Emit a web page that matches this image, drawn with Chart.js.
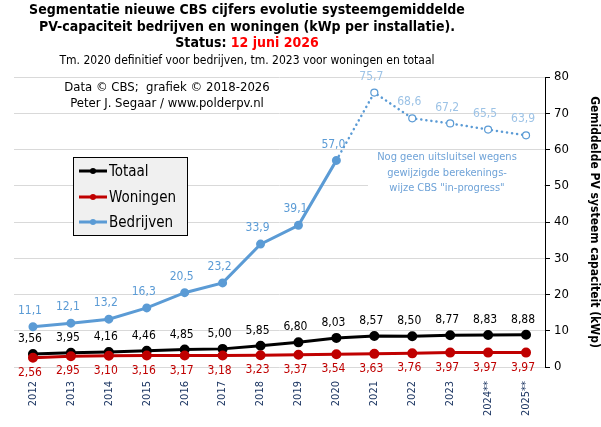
<!DOCTYPE html>
<html>
<head>
<meta charset="utf-8">
<script src="https://cdn.jsdelivr.net/npm/chart.js@4.4.1/dist/chart.umd.min.js"></script>
<style>
  html, body { margin: 0; padding: 0; background: #fff; }
  #wrap { width: 601px; height: 427px; }
</style>
</head>
<body>
<div id="wrap"><canvas id="chart"></canvas></div>
<script>
// gemiddelde systeemcapaciteit (kWp per installatie), CBS
const years = ['2012', '2013', '2014', '2015', '2016', '2017', '2018', '2019',
               '2020', '2021', '2022', '2023', '2024**', '2025**'];
const totaal = [3.56, 3.95, 4.16, 4.46, 4.85, 5.00, 5.85, 6.80, 8.03, 8.57, 8.50, 8.77, 8.83, 8.88];
const woningen = [2.56, 2.95, 3.10, 3.16, 3.17, 3.18, 3.23, 3.37, 3.54, 3.63, 3.76, 3.97, 3.97, 3.97];
const bedrijven = [11.1, 12.1, 13.2, 16.3, 20.5, 23.2, 33.9, 39.1, 57.0, 75.7, 68.6, 67.2, 65.5, 63.9];
const lastFinal = 8; // 2020: laatste definitieve jaar bedrijven
const yTicks = [0, 10, 20, 30, 40, 50, 60, 70, 80];

const FONT = '"DejaVu Sans Condensed", "DejaVu Sans", sans-serif';
const BLUE = '#5b9bd5';
const BLUE_LIGHT = '#9dc3e6';
const RED = '#c00000';

const bedrijvenFinal = bedrijven.map((v, i) => i <= lastFinal ? v : null);
const bedrijvenProgress = bedrijven.map((v, i) => i >= lastFinal ? v : null);

const fmt = v => v.toFixed(v >= 10 ? 1 : 2).replace('.', ',');

const valueLabels = {
  id: 'valueLabels',
  afterDatasetsDraw(chart) {
    const ctx = chart.ctx;
    ctx.save();
    ctx.font = '12px ' + FONT;
    ctx.textAlign = 'center';
    ctx.textBaseline = 'middle';
    chart.data.datasets.forEach((ds, di) => {
      const meta = chart.getDatasetMeta(di);
      meta.data.forEach((pt, i) => {
        const v = ds.data[i];
        if (v == null || (ds.skipLabel && ds.skipLabel.includes(i))) return;
        ctx.fillStyle = ds.labelColor;
        ctx.fillText(fmt(v), pt.x - 3, pt.y + ds.labelOffset);
      });
    });
    ctx.restore();
  }
};

const notes = {
  id: 'notes',
  beforeDatasetsDraw(chart) {
    const ctx = chart.ctx;
    ctx.save();
    ctx.fillStyle = '#fff';
    ctx.fillRect(368, 151, 176, 44);
    ctx.fillStyle = '#6fa3d8';
    ctx.font = '11px ' + FONT;
    ctx.textAlign = 'center';
    ctx.textBaseline = 'middle';
    ctx.fillText('Nog geen uitsluitsel wegens', 447, 157);
    ctx.fillText('gewijzigde berekenings-', 447, 173);
    ctx.fillText('wijze CBS "in-progress"', 447, 188);
    ctx.restore();
  },
  afterDraw(chart) {
    const ctx = chart.ctx;
    ctx.save();
    ctx.textAlign = 'center';
    ctx.textBaseline = 'middle';
    ctx.fillStyle = '#000';

    // titel
    ctx.font = 'bold 14px ' + FONT;
    ctx.fillText('Segmentatie nieuwe CBS cijfers evolutie systeemgemiddelde', 247, 10);
    ctx.fillText('PV-capaciteit bedrijven en woningen (kWp per installatie).', 247, 27);
    const a = 'Status: ', b = '12 juni 2026';
    const wa = ctx.measureText(a).width, wb = ctx.measureText(b).width;
    const x0 = 247 - (wa + wb) / 2;
    ctx.textAlign = 'left';
    ctx.fillText(a, x0, 43);
    ctx.fillStyle = '#ff0000';
    ctx.fillText(b, x0 + wa, 43);

    ctx.textAlign = 'center';
    ctx.fillStyle = '#000';
    ctx.font = '12px ' + FONT;
    ctx.fillText('Tm. 2020 definitief voor bedrijven, tm. 2023 voor woningen en totaal', 247, 61);

    ctx.font = '13px ' + FONT;
    ctx.fillText('Data \u00a9 CBS;  grafiek \u00a9 2018-2026', 167, 88);
    ctx.fillText('Peter J. Segaar / www.polderpv.nl', 167, 104);

    // legenda
    ctx.fillStyle = '#f0f0f0';
    ctx.fillRect(73.5, 157.5, 114, 78);
    ctx.strokeStyle = '#000';
    ctx.lineWidth = 1;
    ctx.strokeRect(73.5, 157.5, 114, 78);
    const items = [['Totaal', '#000', 171], ['Woningen', RED, 197], ['Bedrijven', BLUE, 222]];
    ctx.font = '15px ' + FONT;
    ctx.textAlign = 'left';
    items.forEach(([t, c, y]) => {
      ctx.strokeStyle = c;
      ctx.lineWidth = 3;
      ctx.beginPath();
      ctx.moveTo(79, y);
      ctx.lineTo(107, y);
      ctx.stroke();
      ctx.fillStyle = c;
      ctx.beginPath();
      ctx.arc(93, y, 3, 0, Math.PI * 2);
      ctx.fill();
      ctx.fillStyle = '#000';
      ctx.fillText(t, 109, y + 1);
    });
    ctx.restore();
  }
};

new Chart(document.getElementById('chart'), {
  type: 'line',
  data: {
    labels: years,
    datasets: [
      {
        label: 'Bedrijven (in-progress)',
        data: bedrijvenProgress,
        borderColor: BLUE,
        borderWidth: 2.5,
        borderDash: [0.1, 5],
        borderCapStyle: 'round',
        pointRadius: bedrijvenProgress.map((v, i) => i === lastFinal ? 0 : 3.5),
        pointBackgroundColor: '#fff',
        pointBorderColor: BLUE,
        pointBorderWidth: 1.2,
        labelColor: BLUE_LIGHT,
        labelOffset: -16,
        skipLabel: [lastFinal]
      },
      {
        label: 'Bedrijven',
        data: bedrijvenFinal,
        borderColor: BLUE,
        backgroundColor: BLUE,
        borderWidth: 3,
        pointRadius: 3,
        labelColor: BLUE,
        labelOffset: -16
      },
      {
        label: 'Woningen',
        data: woningen,
        borderColor: RED,
        backgroundColor: RED,
        borderWidth: 3,
        pointRadius: 3.5,
        labelColor: RED,
        labelOffset: 15
      },
      {
        label: 'Totaal',
        data: totaal,
        borderColor: '#000',
        backgroundColor: '#000',
        borderWidth: 3,
        pointRadius: 3.5,
        labelColor: '#000',
        labelOffset: -15
      }
    ]
  },
  options: {
    responsive: true,
    maintainAspectRatio: false,
    animation: false,
    devicePixelRatio: 1,
    layout: { padding: { top: 77, left: 14, right: 0, bottom: 0 } },
    plugins: {
      legend: { display: false },
      title: { display: false },
      tooltip: { enabled: false }
    },
    scales: {
      x: {
        offset: true,
        grid: { display: false },
        border: { display: false },
        ticks: {
          maxRotation: 90,
          minRotation: 90,
          padding: 6,
          color: '#1f3864',
          font: { family: FONT, size: 11 }
        },
        afterFit: s => { s.height = 60; }
      },
      y: {
        position: 'right',
        min: 0,
        max: 80,
        afterBuildTicks: s => { s.ticks = yTicks.map(v => ({ value: v })); },
        grid: { color: '#d9d9d9', tickColor: '#000', tickLength: 5 },
        border: { display: true, color: '#000' },
        ticks: {
          color: '#000',
          padding: 4,
          font: { family: FONT, size: 13 }
        },
        title: {
          display: true,
          text: 'Gemiddelde PV systeem capaciteit (kWp)',
          color: '#000',
          padding: { top: 0, bottom: 8 },
          font: { family: FONT, size: 12, weight: 'bold' }
        },
        afterFit: s => { s.width = 56; }
      }
    }
  },
  plugins: [valueLabels, notes]
});
</script>
</body>
</html>
